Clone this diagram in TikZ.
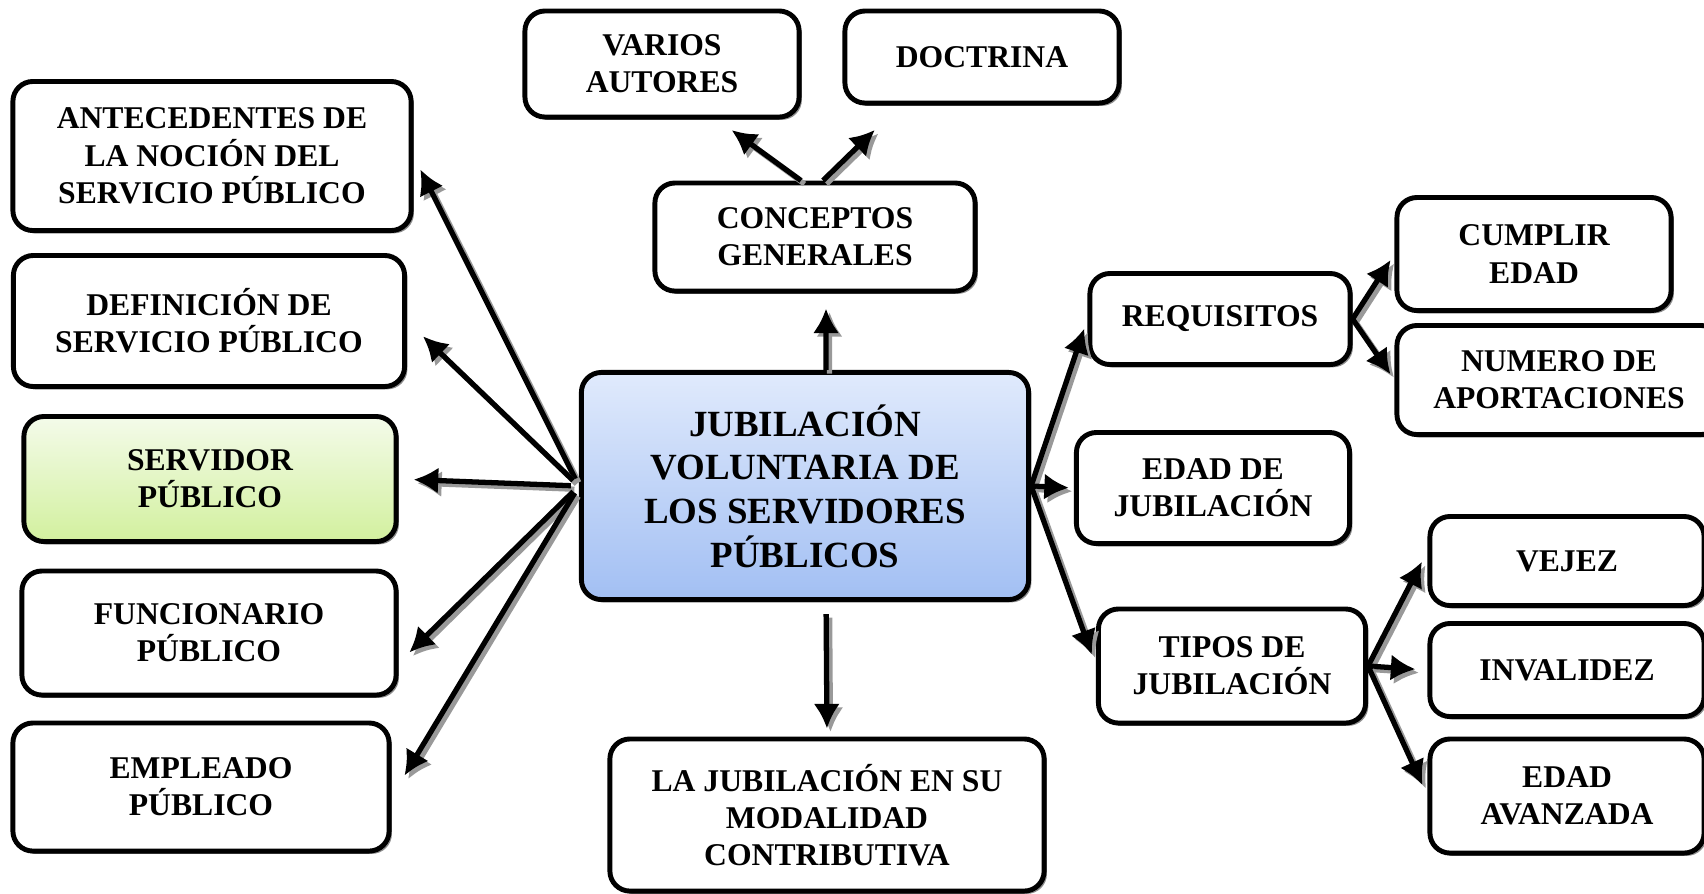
\documentclass[tikz,border=0pt]{standalone}
\usepackage{fontspec}
\setmainfont{Liberation Serif}
\usetikzlibrary{arrows.meta,shadows}
\definecolor{azularriba}{HTML}{E0EAFC}
\definecolor{azulabajo}{HTML}{A2BFF3}
\definecolor{verdearriba}{HTML}{F4FBEA}
\definecolor{verdeabajo}{HTML}{D2F09E}

\begin{document}
\begin{tikzpicture}[
        x=0.01cm, y=-0.01cm, % coordenadas en pixeles
        caja/.style={draw, line width=1.4pt, rounded corners=0.2cm, fill=white, align=center, inner sep=2pt,
                font=\fontsize{9}{10.6}\selectfont\bfseries,
                drop shadow={shadow xshift=0.8pt, shadow yshift=-0.8pt, fill=black!45, opacity=1}}, % estilo de cajas
        central/.style={caja, top color=azularriba, bottom color=azulabajo,
                font=\fontsize{10.5}{12.4}\selectfont\bfseries},
        verde/.style={caja, top color=verdearriba, bottom color=verdeabajo},
        flecha/.style={line width=1.5pt, -{Latex[length=7pt,width=7.5pt]}, shorten >=0.15cm,
                preaction={draw=black!40, line width=1.5pt, -{Latex[length=7pt,width=7.5pt]},
                        transform canvas={shift={(1pt,-1pt)}}}},
    ]
    \useasboundingbox (0,0) rectangle (1704,893);

    % nodo central
    \node[central, minimum width=4.47cm, minimum height=2.27cm] (jubil) at (805,486) {JUBILACIÓN\\VOLUNTARIA DE\\LOS SERVIDORES\\PÚBLICOS};

    % lado izquierdo
    \node[caja, minimum width=3.98cm, minimum height=1.49cm] (antec) at (212,156) {ANTECEDENTES DE\\LA NOCIÓN DEL\\SERVICIO PÚBLICO};
    \node[caja, minimum width=3.91cm, minimum height=1.31cm] (defin) at (209,321) {DEFINICIÓN DE\\SERVICIO PÚBLICO};
    \node[verde, minimum width=3.72cm, minimum height=1.25cm] (servidor) at (210,479) {SERVIDOR\\PÚBLICO};
    \node[caja, minimum width=3.74cm, minimum height=1.24cm] (funcion) at (209,633) {FUNCIONARIO\\PÚBLICO};
    \node[caja, minimum width=3.76cm, minimum height=1.28cm] (empleado) at (201,787) {EMPLEADO\\PÚBLICO};

    % arriba y abajo
    \node[caja, minimum width=3.20cm, minimum height=1.08cm] (concep) at (815,237) {CONCEPTOS\\GENERALES};
    \node[caja, minimum width=2.74cm, minimum height=1.06cm] (varios) at (662,64) {VARIOS\\AUTORES};
    \node[caja, minimum width=2.74cm, minimum height=0.92cm] (doctrina) at (982,57) {DOCTRINA};
    \node[caja, minimum width=4.34cm, minimum height=1.52cm] (modal) at (827,815) {LA JUBILACIÓN EN SU\\MODALIDAD\\CONTRIBUTIVA};

    % lado derecho
    \node[caja, minimum width=2.60cm, minimum height=0.91cm] (requis) at (1220,319) {REQUISITOS};
    \node[caja, minimum width=2.73cm, minimum height=1.11cm] (edadjub) at (1213,488) {EDAD DE\\JUBILACIÓN};
    \node[caja, minimum width=2.67cm, minimum height=1.14cm] (tipos) at (1232,666) {TIPOS DE\\JUBILACIÓN};
    \node[caja, minimum width=2.74cm, minimum height=1.13cm] (cumplir) at (1534,254) {CUMPLIR\\EDAD};
    \node[caja, minimum width=3.24cm, minimum height=1.09cm] (numero) at (1559,380) {NUMERO DE\\APORTACIONES};
    \node[caja, minimum width=2.74cm, minimum height=0.89cm] (vejez) at (1567,561) {VEJEZ};
    \node[caja, minimum width=2.74cm, minimum height=0.93cm] (invalidez) at (1567,670) {INVALIDEZ};
    \node[caja, minimum width=2.74cm, minimum height=1.14cm] (avanzada) at (1567,796) {EDAD\\AVANZADA};

    % flechas del nodo central
    \draw[flecha, shorten <=0.08cm] (jubil.west) -- (antec.east);
    \draw[flecha, shorten <=0.08cm, shorten >=0.22cm] (jubil.west) -- (defin.east);
    \draw[flecha, shorten <=0.08cm] (jubil.west) -- (servidor.east);
    \draw[flecha, shorten <=0.08cm] (jubil.west) -- ([yshift=-0.3cm]funcion.east);
    \draw[flecha, shorten <=0.08cm, shorten >=0.25cm] (jubil.west) -- ([yshift=-0.1cm]empleado.east);
    \draw[flecha] ([xshift=0.21cm]jubil.north) -- ([xshift=0.11cm]concep.south);
    \draw[flecha, shorten <=0.12cm, shorten >=0.08cm] ([xshift=0.21cm]jubil.south) -- (modal.north);
    \draw[flecha, shorten >=0.1cm] (jubil.east) -- (requis.west);
    \draw[flecha, shorten >=0.05cm] (jubil.east) -- (edadjub.west);
    \draw[flecha, shorten >=0.12cm] (jubil.east) -- (tipos.west);

    % flechas secundarias
    \draw[flecha, shorten >=0.18cm] ([xshift=-0.14cm]concep.north) -- ([xshift=0.55cm]varios.south);
    \draw[flecha, shorten >=0.35cm] ([xshift=0.08cm]concep.north) -- ([xshift=-0.82cm]doctrina.south);
    \draw[flecha, shorten >=0.07cm] (requis.east) -- (cumplir.west);
    \draw[flecha, shorten >=0.07cm] (requis.east) -- (numero.west);
    \draw[flecha, shorten >=0.12cm] (tipos.east) -- ([yshift=0.1cm]vejez.west);
    \draw[flecha, shorten >=0.12cm] (tipos.east) -- (invalidez.west);
    \draw[flecha, shorten >=0.12cm] (tipos.east) -- (avanzada.west);
\end{tikzpicture}
\end{document}
